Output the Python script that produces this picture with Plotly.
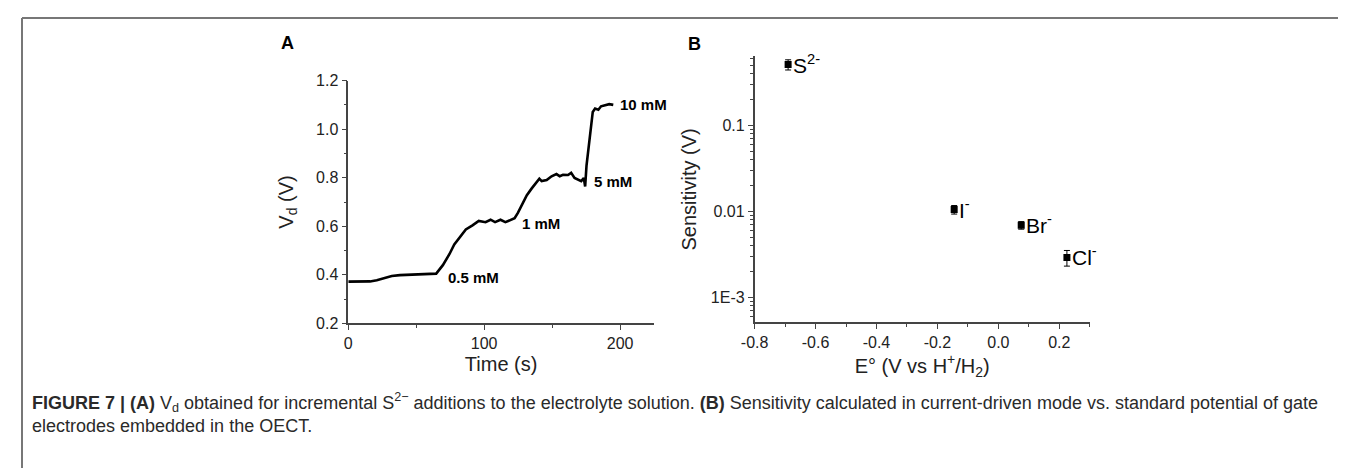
import math
import plotly.graph_objects as go

W, H = 1346, 469
OFF = 8  # compensates the page's default 8px body margin

# Panel A: Vd vs time
time_s = [0, 8, 16, 21, 26, 32, 38, 50, 60, 64.7, 69.6, 74.4, 78, 81.7, 86.5, 91.4, 96, 101, 104.7,
          108, 112, 115.6, 119, 122.4, 124.8, 127.8, 131.4, 135, 138.7, 140.6, 142.3, 146, 149.6,
          153.2, 155.6, 158, 161.7, 164, 166.5, 169, 171.4, 173.3, 174.3, 175.3, 176.7, 178.7,
          179.9, 181.6, 184, 186, 189.6, 192, 195]
vd = [0.372, 0.372, 0.373, 0.378, 0.387, 0.395, 0.399, 0.401, 0.403, 0.405, 0.440, 0.485, 0.525,
      0.553, 0.587, 0.604, 0.622, 0.617, 0.627, 0.617, 0.627, 0.617, 0.624, 0.633, 0.655, 0.688,
      0.728, 0.756, 0.784, 0.796, 0.786, 0.790, 0.806, 0.815, 0.806, 0.812, 0.811, 0.820, 0.799,
      0.794, 0.786, 0.799, 0.764, 0.850, 0.916, 1.020, 1.071, 1.085, 1.080, 1.094, 1.098, 1.103, 1.100]
conc_labels = ["0.5 mM", "1 mM", "5 mM", "10 mM"]
conc_t = [72, 126.5, 179, 198.5]
conc_v = [0.39, 0.612, 0.786, 1.103]

# Panel B: sensitivity vs standard potential
ions = ["S<sup>2-</sup>", "I<sup>-</sup>", "Br<sup>-</sup>", "Cl<sup>-</sup>"]
e0 = [-0.69, -0.145, 0.075, 0.225]
sens = [0.515, 0.0105, 0.0069, 0.0029]
sens_err = [0.07, 0.0012, 0.0007, 0.0006]

FONT = "Liberation Sans, Arial, sans-serif"
AX = "#444"
TXT = "#222"

fig = go.Figure()
fig.add_trace(go.Scatter(x=time_s, y=vd, mode="lines", line=dict(color="black", width=2.6),
                         xaxis="x", yaxis="y", showlegend=False, hoverinfo="skip"))
fig.add_trace(go.Scatter(x=e0, y=sens, mode="markers",
                         marker=dict(symbol="square", size=7, color="black"),
                         error_y=dict(type="data", array=sens_err, color="black", thickness=1, width=3),
                         xaxis="x2", yaxis="y2", showlegend=False, hoverinfo="skip"))

def px_x(p):
    return (p - OFF) / W

def px_y(p):
    return (H - (p - OFF)) / H

common = dict(showgrid=False, zeroline=False, showline=True, linecolor=AX, linewidth=1.5,
              ticks="outside", ticklen=5, tickwidth=1.2, tickcolor=AX,
              tickfont=dict(family=FONT, size=16, color=TXT),
              title_font=dict(family=FONT, size=20, color=TXT))

fig.update_layout(
    width=W, height=H, margin=dict(l=0, r=0, t=0, b=0),
    paper_bgcolor="white", plot_bgcolor="white",
    xaxis=dict(domain=[px_x(337.7), px_x(646.7)], range=[0, 225], tickvals=[0, 100, 200],
               minor=dict(ticks="outside", ticklen=3, tickcolor=AX, tickvals=[50, 150]),
               title=dict(text="Time (s)", standoff=6), anchor="y", **common),
    yaxis=dict(domain=[px_y(327), px_y(75)], range=[0.2, 1.2],
               tickvals=[0.2, 0.4, 0.6, 0.8, 1.0, 1.2], ticktext=["0.2", "0.4", "0.6", "0.8", "1.0", "1.2"],
               minor=dict(ticks="outside", ticklen=3, tickcolor=AX, tickvals=[0.3, 0.5, 0.7, 0.9, 1.1]),
               title=dict(text="V<sub>d</sub> (V)", standoff=17), anchor="x", **common),
    xaxis2=dict(domain=[px_x(748.3), px_x(1087)], range=[-0.8, 0.3],
                tickvals=[-0.8, -0.6, -0.4, -0.2, 0.0, 0.2],
                ticktext=["-0.8", "-0.6", "-0.4", "-0.2", "0.0", "0.2"],
                minor=dict(ticks="outside", ticklen=3, tickcolor=AX,
                           tickvals=[-0.7, -0.5, -0.3, -0.1, 0.1, 0.3]),
                title=dict(text="E° (V vs H<sup>+</sup>/H<sub>2</sub>)", standoff=6), anchor="y2", **common),
    yaxis2=dict(domain=[px_y(325.7), px_y(50)], type="log", range=[-3.292, -0.194],
                tickvals=[0.001, 0.01, 0.1], ticktext=["1E-3", "0.01", "0.1"],
                minor=dict(ticks="outside", ticklen=3, tickcolor=AX,
                           tickvals=[m * 10 ** e for e in (-4, -3, -2, -1) for m in range(2, 10)]),
                title=dict(text="Sensitivity (V)", standoff=9), anchor="x2", **common),
)

annotations = []
for lab, t, v in zip(conc_labels, conc_t, conc_v):
    annotations.append(dict(x=t, y=v, xref="x", yref="y", text="<b>" + lab + "</b>", showarrow=False,
                            xanchor="left", yanchor="middle",
                            font=dict(family=FONT, size=15, color="black")))
for lab, x, y in zip(ions, e0, sens):
    annotations.append(dict(x=x, y=math.log10(y), xref="x2", yref="y2", text=lab, showarrow=False,
                            xanchor="left", yanchor="middle", xshift=3, yshift=1,
                            font=dict(family=FONT, size=21, color="black")))
annotations.append(dict(x=px_x(268), y=px_y(36), xref="paper", yref="paper", text="<b>A</b>",
                        showarrow=False, xanchor="left", yanchor="middle",
                        font=dict(family=FONT, size=18, color="black")))
annotations.append(dict(x=px_x(679), y=px_y(37), xref="paper", yref="paper", text="<b>B</b>",
                        showarrow=False, xanchor="left", yanchor="middle",
                        font=dict(family=FONT, size=18, color="black")))
cap1 = ("<b>FIGURE 7 | (A)</b> V<sub>d</sub> obtained for incremental S<sup>2−</sup> additions to the "
        "electrolyte solution. <b>(B)</b> Sensitivity calculated in current-driven mode vs. standard "
        "potential of gate")
cap2 = "electrodes embedded in the OECT."
annotations.append(dict(x=px_x(16), y=px_y(409), xref="paper", yref="paper", text=cap1, showarrow=False,
                        xanchor="left", yanchor="middle", font=dict(family=FONT, size=18, color="#2a2a2a")))
annotations.append(dict(x=px_x(16), y=px_y(433), xref="paper", yref="paper", text=cap2, showarrow=False,
                        xanchor="left", yanchor="middle", font=dict(family=FONT, size=18, color="#2a2a2a")))
fig.update_layout(annotations=annotations)

fig.update_layout(shapes=[
    dict(type="line", xref="paper", yref="paper", x0=px_x(8), x1=px_x(8), y0=0, y1=px_y(10),
         line=dict(color="#777", width=2)),
    dict(type="line", xref="paper", yref="paper", x0=px_x(8), x1=1, y0=px_y(10), y1=px_y(10),
         line=dict(color="#777", width=2)),
])

fig.write_html("out.html")
